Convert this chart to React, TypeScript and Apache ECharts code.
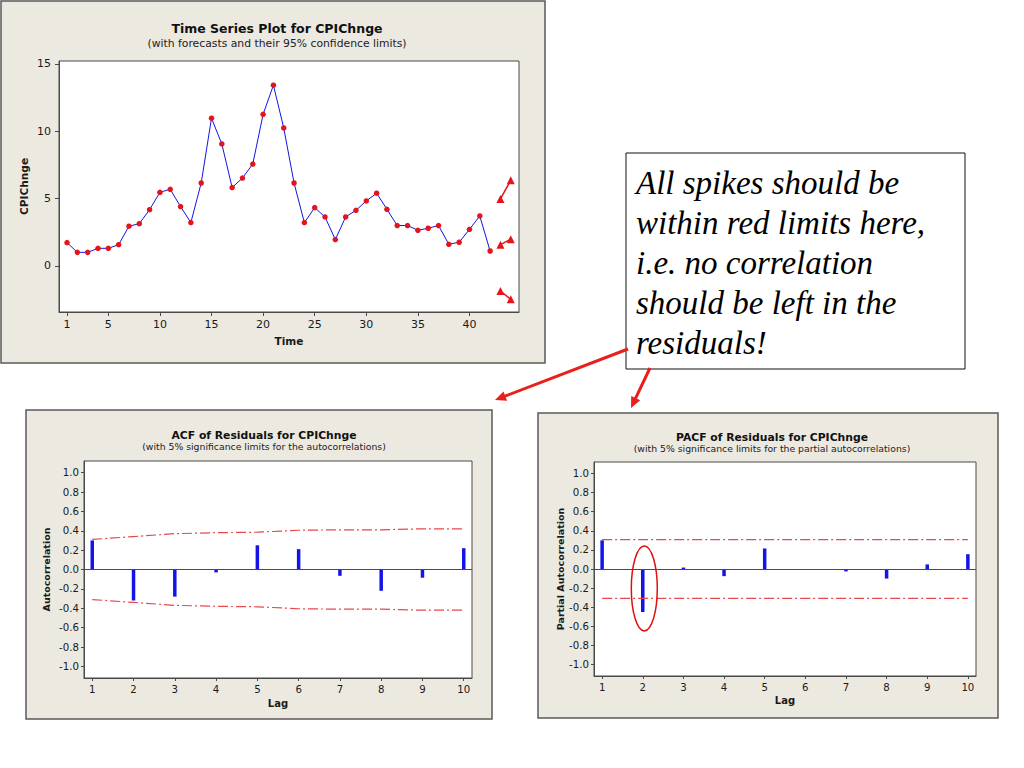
import React, { useEffect, useRef } from "react";
import * as echarts from "echarts";

// ---- Data ----
const timeIndex = [
  1, 2, 3, 4, 5, 6, 7, 8, 9, 10, 11, 12, 13, 14, 15, 16, 17, 18, 19, 20, 21,
  22, 23, 24, 25, 26, 27, 28, 29, 30, 31, 32, 33, 34, 35, 36, 37, 38, 39, 40,
  41, 42,
];
const cpiChnge = [
  1.73, 1.01, 1.01, 1.31, 1.31, 1.58, 2.95, 3.14, 4.18, 5.47, 5.69, 4.41,
  3.22, 6.16, 10.97, 9.06, 5.82, 6.53, 7.57, 11.26, 13.42, 10.25, 6.16, 3.22,
  4.33, 3.64, 1.96, 3.64, 4.13, 4.83, 5.4, 4.21, 3.0, 3.0, 2.65, 2.8, 3.0,
  1.61, 1.76, 2.72, 3.71, 1.11,
];
const forecastTime = [43, 44];
const forecastValues = [1.58, 1.98];
const upperLimits = [4.98, 6.36];
const lowerLimits = [-1.86, -2.48];
const timeTicks = [1, 5, 10, 15, 20, 25, 30, 35, 40];
const cpiTicks = [0, 5, 10, 15];

const lags = [1, 2, 3, 4, 5, 6, 7, 8, 9, 10];
const acfValues = [0.3, -0.32, -0.28, -0.03, 0.25, 0.21, -0.065, -0.22, -0.085, 0.22];
const acfLimits = [0.31, 0.34, 0.37, 0.38, 0.385, 0.405, 0.41, 0.41, 0.42, 0.42];
const pacfValues = [0.3, -0.45, 0.015, -0.075, 0.215, -0.005, -0.025, -0.1, 0.048, 0.155];
const pacfLimit = 0.308;
const corrTicks = [-1.0, -0.8, -0.6, -0.4, -0.2, 0.0, 0.2, 0.4, 0.6, 0.8, 1.0];

const noteLines = [
  "All spikes should be",
  "within red limits here,",
  "i.e. no correlation",
  "should be left in the",
  "residuals!",
];

// ---- Styles ----
const FONT = "DejaVu Sans";
const PANEL_BG = "#ECE9E1";
const PANEL_BORDER = "#5a5a5a";
const FRAME = "#4a4a4a";
const BLUE = "#1414E6";
const RED = "#E5141C";
const LIMIT_RED = "#E8474B";
const TXT = "#1a1a1a";

function arrow(x1: number, y1: number, x2: number, y2: number, color: string) {
  const dx = x2 - x1;
  const dy = y2 - y1;
  const len = Math.sqrt(dx * dx + dy * dy);
  const ux = dx / len;
  const uy = dy / len;
  const headL = 11;
  const headW = 5;
  const bx = x2 - ux * headL;
  const by = y2 - uy * headL;
  return [
    {
      type: "line",
      z: 100,
      shape: { x1, y1, x2: bx + ux * 1, y2: by + uy * 1 },
      style: { stroke: color, lineWidth: 3 },
    },
    {
      type: "polygon",
      z: 100,
      shape: {
        points: [
          [x2, y2],
          [bx - uy * headW, by + ux * headW],
          [bx + uy * headW, by - ux * headW],
        ],
      },
      style: { fill: color },
    },
  ];
}

function corrYAxis(gridIndex: number, name: string, gap: number) {
  return {
    type: "value",
    gridIndex,
    min: -1.12,
    max: 1.12,
    name,
    nameLocation: "middle",
    nameGap: gap,
    nameTextStyle: { fontFamily: FONT, fontWeight: "bold", fontSize: 9.5, color: TXT },
    axisLine: { show: true, lineStyle: { color: FRAME } },
    axisTick: { show: true, length: 3, customValues: corrTicks, lineStyle: { color: FRAME } },
    axisLabel: {
      customValues: corrTicks,
      margin: 5,
      fontFamily: FONT,
      fontSize: 10.2,
      color: TXT,
      formatter: (v: number) => v.toFixed(1),
    },
    splitLine: { show: false },
  };
}

function lagXAxis(gridIndex: number, gap: number) {
  return {
    type: "value",
    gridIndex,
    min: 0.8,
    max: 10.2,
    name: "Lag",
    nameLocation: "middle",
    nameGap: gap,
    nameTextStyle: { fontFamily: FONT, fontWeight: "bold", fontSize: 10, color: TXT },
    axisLine: { show: true, onZero: false, lineStyle: { color: FRAME } },
    axisTick: { show: true, length: 3, customValues: lags, lineStyle: { color: FRAME } },
    axisLabel: { customValues: lags, margin: 6, fontFamily: FONT, fontSize: 10.2, color: TXT },
    splitLine: { show: false },
  };
}

export default function App() {
  const ref = useRef<HTMLDivElement>(null);

  useEffect(() => {
    const chart = echarts.init(ref.current!, null, { renderer: "svg" });

    const option: any = {
      animation: false,
      backgroundColor: "#ffffff",
      title: [
        {
          text: "Time Series Plot for CPIChnge",
          subtext: "(with forecasts and their 95% confidence limits)",
          left: 272,
          top: 17,
          textAlign: "center",
          itemGap: 3,
          textStyle: { fontFamily: FONT, fontSize: 12.5, fontWeight: "bold", color: "#111" },
          subtextStyle: { fontFamily: FONT, fontSize: 10.8, color: "#222" },
        },
        {
          text: "ACF of Residuals for CPIChnge",
          subtext: "(with 5% significance limits for the autocorrelations)",
          left: 259,
          top: 425,
          textAlign: "center",
          itemGap: 1,
          textStyle: { fontFamily: FONT, fontSize: 10.8, fontWeight: "bold", color: "#111" },
          subtextStyle: { fontFamily: FONT, fontSize: 9.3, color: "#222" },
        },
        {
          text: "PACF of Residuals for CPIChnge",
          subtext: "(with 5% significance limits for the partial autocorrelations)",
          left: 767,
          top: 427,
          textAlign: "center",
          itemGap: 1,
          textStyle: { fontFamily: FONT, fontSize: 10.8, fontWeight: "bold", color: "#111" },
          subtextStyle: { fontFamily: FONT, fontSize: 9.3, color: "#222" },
        },
      ],
      grid: [
        { left: 59, top: 61, width: 460, height: 251, show: true, backgroundColor: "#fff", borderColor: FRAME, borderWidth: 1 },
        { left: 84, top: 461, width: 388, height: 217, show: true, backgroundColor: "#fff", borderColor: FRAME, borderWidth: 1 },
        { left: 594, top: 462, width: 382, height: 214, show: true, backgroundColor: "#fff", borderColor: FRAME, borderWidth: 1 },
      ],
      xAxis: [
        {
          type: "value",
          gridIndex: 0,
          min: 0.22,
          max: 44.8,
          name: "Time",
          nameLocation: "middle",
          nameGap: 23,
          nameTextStyle: { fontFamily: FONT, fontWeight: "bold", fontSize: 10.5, color: TXT },
          axisLine: { show: true, onZero: false, lineStyle: { color: FRAME } },
          axisTick: { show: true, length: 4, customValues: timeTicks, lineStyle: { color: FRAME } },
          axisLabel: { customValues: timeTicks, margin: 7, fontFamily: FONT, fontSize: 11, color: TXT },
          splitLine: { show: false },
        },
        lagXAxis(1, 20),
        lagXAxis(2, 19),
      ],
      yAxis: [
        {
          type: "value",
          gridIndex: 0,
          min: -3.42,
          max: 15.22,
          name: "CPIChnge",
          nameLocation: "middle",
          nameGap: 30,
          nameTextStyle: { fontFamily: FONT, fontWeight: "bold", fontSize: 10.6, color: TXT },
          axisLine: { show: true, onZero: false, lineStyle: { color: FRAME } },
          axisTick: { show: true, length: 4, customValues: cpiTicks, lineStyle: { color: FRAME } },
          axisLabel: { customValues: cpiTicks, margin: 8, fontFamily: FONT, fontSize: 11, color: TXT },
          splitLine: { show: false },
        },
        corrYAxis(1, "Autocorrelation", 33),
        corrYAxis(2, "Partial Autocorrelation", 29),
      ],
      series: [
        {
          type: "line",
          xAxisIndex: 0,
          yAxisIndex: 0,
          data: timeIndex.map((t, i) => [t, cpiChnge[i]]),
          symbol: "circle",
          symbolSize: 5.5,
          lineStyle: { color: BLUE, width: 1 },
          itemStyle: { color: RED },
        },
        ...[forecastValues, upperLimits, lowerLimits].map((vals) => ({
          type: "line",
          xAxisIndex: 0,
          yAxisIndex: 0,
          data: forecastTime.map((t, i) => [t, vals[i]]),
          symbol: "triangle",
          symbolSize: 8,
          lineStyle: { color: RED, width: 1.5 },
          itemStyle: { color: RED },
        })),
        // ACF
        {
          type: "bar",
          xAxisIndex: 1,
          yAxisIndex: 1,
          data: lags.map((l, i) => [l, acfValues[i]]),
          barWidth: 3.5,
          itemStyle: { color: BLUE },
          markLine: {
            silent: true,
            symbol: ["none", "none"],
            label: { show: false },
            lineStyle: { color: FRAME, type: "solid", width: 1 },
            data: [{ yAxis: 0 }],
          },
        },
        {
          type: "line",
          xAxisIndex: 1,
          yAxisIndex: 1,
          data: lags.map((l, i) => [l, acfLimits[i]]),
          symbol: "none",
          lineStyle: { color: LIMIT_RED, width: 1.2, type: [10, 3, 2, 3] },
        },
        {
          type: "line",
          xAxisIndex: 1,
          yAxisIndex: 1,
          data: lags.map((l, i) => [l, -acfLimits[i]]),
          symbol: "none",
          lineStyle: { color: LIMIT_RED, width: 1.2, type: [10, 3, 2, 3] },
        },
        // PACF
        {
          type: "bar",
          xAxisIndex: 2,
          yAxisIndex: 2,
          data: lags.map((l, i) => [l, pacfValues[i]]),
          barWidth: 3.5,
          itemStyle: { color: BLUE },
          markLine: {
            silent: true,
            symbol: ["none", "none"],
            label: { show: false },
            lineStyle: { color: FRAME, type: "solid", width: 1 },
            data: [{ yAxis: 0 }],
          },
        },
        {
          type: "line",
          xAxisIndex: 2,
          yAxisIndex: 2,
          data: lags.map((l) => [l, pacfLimit]),
          symbol: "none",
          lineStyle: { color: LIMIT_RED, width: 1.2, type: [10, 3, 2, 3] },
        },
        {
          type: "line",
          xAxisIndex: 2,
          yAxisIndex: 2,
          data: lags.map((l) => [l, -pacfLimit]),
          symbol: "none",
          lineStyle: { color: LIMIT_RED, width: 1.2, type: [10, 3, 2, 3] },
        },
      ],
      graphic: [
        { type: "rect", z: -10, shape: { x: 1, y: 1, width: 544, height: 362 }, style: { fill: PANEL_BG, stroke: PANEL_BORDER, lineWidth: 1.5 } },
        { type: "rect", z: -10, shape: { x: 26, y: 410, width: 466, height: 309 }, style: { fill: PANEL_BG, stroke: PANEL_BORDER, lineWidth: 1.5 } },
        { type: "rect", z: -10, shape: { x: 538, y: 413, width: 460, height: 305 }, style: { fill: PANEL_BG, stroke: PANEL_BORDER, lineWidth: 1.5 } },
        { type: "rect", z: 100, shape: { x: 626, y: 153, width: 339, height: 216 }, style: { fill: "#ffffff", stroke: "#111", lineWidth: 1 } },
        {
          type: "text",
          z: 101,
          x: 636,
          y: 163,
          style: {
            text: noteLines.join("\n"),
            font: 'italic 33px "Liberation Serif", "Times New Roman", serif',
            lineHeight: 40,
            fill: "#000",
            verticalAlign: "top",
            align: "left",
          },
        },
        { type: "ellipse", z: 100, shape: { cx: 644.3, cy: 588.5, rx: 13, ry: 42.5 }, style: { fill: "none", stroke: "#E01010", lineWidth: 1.5 } },
        ...arrow(628, 349, 495, 400, "#E8201C"),
        ...arrow(650, 368, 631, 408, "#E8201C"),
      ],
    };

    chart.setOption(option);
    return () => chart.dispose();
  }, []);

  return (
    <div
      ref={ref}
      style={{ position: "absolute", left: 0, top: 0, width: 1024, height: 768 }}
    />
  );
}
